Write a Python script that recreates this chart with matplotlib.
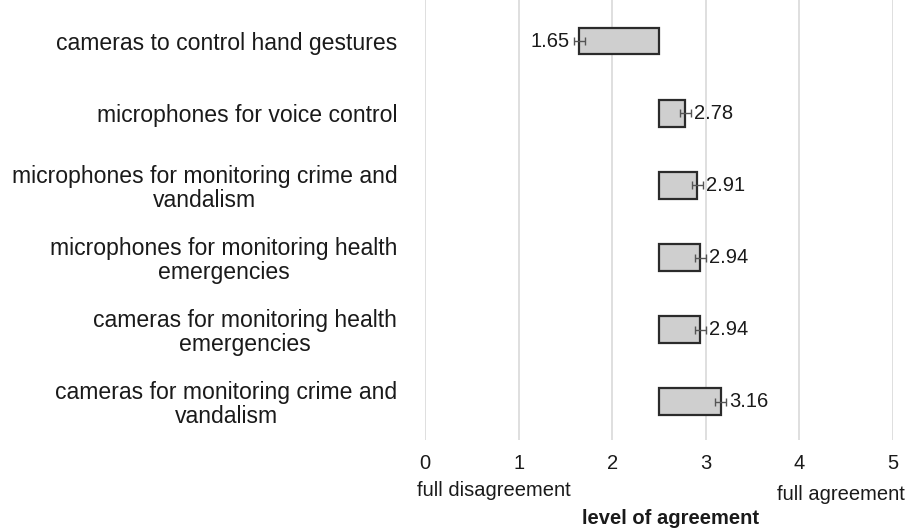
import matplotlib.pyplot as plt
import numpy as np

items = [
    "cameras to control hand gestures",
    "microphones for voice control",
    "microphones for monitoring crime and\nvandalism",
    "microphones for monitoring health\nemergencies",
    "cameras for monitoring health\nemergencies",
    "cameras for monitoring crime and\nvandalism",
]
means = [1.65, 2.78, 2.91, 2.94, 2.94, 3.16]
errors = [0.06, 0.06, 0.06, 0.06, 0.06, 0.06]
midpoint = 2.5

plt.rcParams['font.family'] = ['Liberation Sans', 'DejaVu Sans']
txt = "#1a1a1a"

fig = plt.figure(figsize=(9.11, 5.32), dpi=100)
ax = fig.add_axes([425 / 911, 1 - 440 / 532, 468 / 911, 440 / 532])

y = np.arange(len(items))
widths = [m - midpoint for m in means]
ax.barh(y, widths, left=midpoint, height=0.37, color="#cfcfcf",
        edgecolor="#2b2b2b", linewidth=1.6, zorder=3)
ax.errorbar(means, y, xerr=errors, fmt="none", ecolor="#555555",
            elinewidth=1, capsize=3, capthick=1, zorder=4)

for yi, m, e in zip(y, means, errors):
    if m < midpoint:
        ax.text(m - e - 0.05, yi, f"{m:.2f}", ha="right", va="center",
                fontsize=14.5, color=txt)
    else:
        ax.text(m + e + 0.03, yi, f"{m:.2f}", ha="left", va="center",
                fontsize=14.5, color=txt)

ax.set_xlim(0, 5)
ax.set_ylim(5.53, -0.57)
ax.set_xticks(range(6))
ax.xaxis.grid(True, color="#d9d9d9", linewidth=1.2, zorder=0)
ax.set_yticks(y)
ax.set_yticklabels(items, fontsize=16.6, color=txt, multialignment="center",
                   linespacing=1.05)
ax.tick_params(axis="y", length=0, pad=20)
ax.tick_params(axis="x", length=0, pad=10, labelsize=14.5, labelcolor=txt)
for s in ax.spines.values():
    s.set_visible(False)

fig.text(417 / 911, 1 - 490 / 532, "full disagreement", ha="left",
         va="center", fontsize=14.5, color=txt)
fig.text(905 / 911, 1 - 494 / 532, "full agreement", ha="right",
         va="center", fontsize=14.5, color=txt)
fig.text(671 / 911, 1 - 519 / 532, "level of agreement", ha="center",
         va="center", fontsize=14.5, fontweight="bold", color=txt)

fig.savefig("out.png", dpi=100)
